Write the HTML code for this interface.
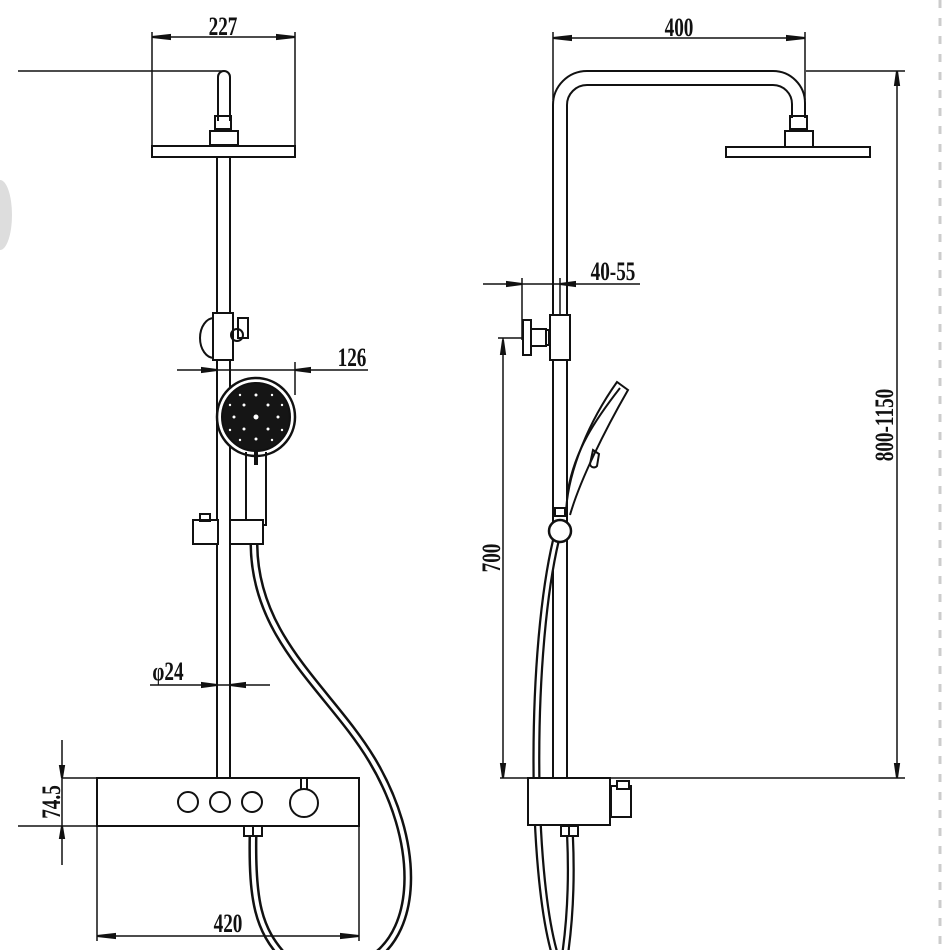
<!DOCTYPE html>
<html><head><style>
html,body{margin:0;padding:0;background:#fff;}
svg{display:block;}
text{font-family:"Liberation Serif",serif;font-weight:bold;fill:#111;}
</style></head><body>
<svg width="945" height="950" viewBox="0 0 945 950" xmlns="http://www.w3.org/2000/svg">
<ellipse cx="0" cy="215" rx="12" ry="35" fill="#ddd"/>
<line x1="940" y1="0" x2="940" y2="950" stroke="#ccc" stroke-width="3" stroke-dasharray="8,10"/>

<g fill="none" stroke="#111" stroke-width="2">
<line x1="152" y1="32" x2="152" y2="146" stroke-width="1.5"/>
<line x1="295" y1="32" x2="295" y2="146" stroke-width="1.5"/>
<line x1="152" y1="37" x2="295" y2="37" stroke-width="1.5"/>
<path d="M152,37 l18,-2 v4z M295,37 l-18,-2 v4z" fill="#111"/>
<line x1="18" y1="71" x2="224" y2="71" stroke-width="1.5"/>
<path d="M218,121 V77 a6,6 0 0 1 12,0 V121"/>
<rect x="215" y="116" width="16" height="13"/>
<rect x="210" y="131" width="28" height="14"/>
<rect x="152" y="146" width="143" height="11"/>
<line x1="217" y1="157" x2="217" y2="778"/>
<line x1="230" y1="157" x2="230" y2="778"/>
<path d="M214,318 a14,20 0 0 0 0,40"/>
<rect x="213" y="313" width="20" height="47" fill="#fff"/>
<circle cx="237" cy="335" r="6"/>
<rect x="238" y="318" width="10" height="20"/>
<line x1="177" y1="370" x2="368" y2="370" stroke-width="1.5"/>
<line x1="295" y1="362" x2="295" y2="395" stroke-width="1.5"/>
<path d="M217,370 l-15,-2 v4z M295,370 l15,-2 v4z" fill="#111"/>
<circle cx="256" cy="417" r="39" fill="#fff" stroke-width="2.5"/>
<circle cx="256" cy="417" r="34" fill="#151515"/>
<g fill="#fff" stroke="none">
<circle cx="256" cy="417" r="2.5"/><circle cx="244" cy="405" r="1.5"/><circle cx="268" cy="405" r="1.5"/>
<circle cx="244" cy="429" r="1.5"/><circle cx="268" cy="429" r="1.5"/><circle cx="256" cy="395" r="1.5"/>
<circle cx="256" cy="439" r="1.5"/><circle cx="234" cy="417" r="1.5"/><circle cx="278" cy="417" r="1.5"/>
<circle cx="240" cy="395" r="1.2"/><circle cx="272" cy="395" r="1.2"/><circle cx="240" cy="440" r="1.2"/><circle cx="272" cy="440" r="1.2"/>
<circle cx="230" cy="405" r="1.2"/><circle cx="282" cy="405" r="1.2"/><circle cx="230" cy="430" r="1.2"/><circle cx="282" cy="430" r="1.2"/>
</g>
<path d="M246,452 V525 H266 V452"/>
<line x1="256" y1="450" x2="256" y2="465" stroke-width="4"/>
<rect x="193" y="520" width="25" height="24" fill="#fff"/>
<rect x="200" y="514" width="10" height="7"/>
<rect x="230" y="520" width="33" height="24" fill="#fff"/>
<line x1="150" y1="685" x2="270" y2="685" stroke-width="1.5"/>
<path d="M217,685 l-15,-2 v4z M230,685 l15,-2 v4z" fill="#111"/>
<g stroke-width="9"><path d="M254,545 C255,640 330,690 372,760 C420,840 420,930 370,960"/><path d="M253,836 C252,900 258,930 285,958"/></g>
<g stroke="#fff" stroke-width="4"><path d="M254,545 C255,640 330,690 372,760 C420,840 420,930 370,960"/><path d="M253,836 C252,900 258,930 285,958"/></g>
<rect x="244" y="826" width="18" height="10" fill="#fff"/>
<line x1="253" y1="826" x2="253" y2="836"/>
<rect x="97" y="778" width="262" height="48" fill="#fff"/>
<circle cx="188" cy="802" r="10"/><circle cx="220" cy="802" r="10"/><circle cx="252" cy="802" r="10"/>
<circle cx="304" cy="803" r="14"/>
<path d="M301,789 V779 M307,789 V779"/>
<line x1="62" y1="740" x2="62" y2="865" stroke-width="1.5"/>
<line x1="62" y1="778" x2="97" y2="778" stroke-width="1.5"/>
<line x1="18" y1="826" x2="97" y2="826" stroke-width="1.5"/>
<path d="M62,778 l-2,-12 h4z M62,826 l-2,12 h4z" fill="#111"/>
<line x1="97" y1="826" x2="97" y2="941" stroke-width="1.5"/>
<line x1="359" y1="826" x2="359" y2="941" stroke-width="1.5"/>
<line x1="97" y1="936" x2="359" y2="936" stroke-width="1.5"/>
<path d="M97,936 l18,-2 v4z M359,936 l-18,-2 v4z" fill="#111"/>

<line x1="553" y1="32" x2="553" y2="100" stroke-width="1.5"/>
<line x1="805" y1="32" x2="805" y2="100" stroke-width="1.5"/>
<line x1="553" y1="38" x2="805" y2="38" stroke-width="1.5"/>
<path d="M553,38 l18,-2 v4z M805,38 l-18,-2 v4z" fill="#111"/>
<path d="M553,778 V105 a34,34 0 0 1 34,-34 H773 a32,32 0 0 1 32,32 V118"/>
<path d="M567,778 V105 a20,20 0 0 1 20,-20 H773 a19,19 0 0 1 19,19 V118"/>
<rect x="790" y="116" width="17" height="13"/>
<rect x="785" y="131" width="28" height="16"/>
<rect x="726" y="147" width="144" height="10"/>
<line x1="806" y1="71" x2="905" y2="71" stroke-width="1.5"/>
<line x1="897" y1="71" x2="897" y2="778" stroke-width="1.5"/>
<path d="M897,71 l-2,14 h4z M897,778 l-2,-14 h4z" fill="#111"/>
<line x1="500" y1="778" x2="905" y2="778" stroke-width="1.5"/>
<line x1="483" y1="284" x2="640" y2="284" stroke-width="1.5"/>
<line x1="522" y1="278" x2="522" y2="340" stroke-width="1.5"/>
<line x1="560" y1="278" x2="560" y2="320" stroke-width="1.5"/>
<path d="M522,284 l-15,-2 v4z M560,284 l15,-2 v4z" fill="#111"/>
<rect x="550" y="315" width="20" height="45" fill="#fff"/>
<rect x="523" y="320" width="8" height="35" fill="#fff"/>
<rect x="531" y="329" width="15" height="17"/>
<path d="M546,330 h3 v15 h-3"/>
<line x1="498" y1="338" x2="522" y2="338" stroke-width="1.5"/>
<line x1="503" y1="338" x2="503" y2="778" stroke-width="1.5"/>
<path d="M503,340 l-2,14 h4z M503,778 l-2,-14 h4z" fill="#111"/>
<path d="M566,512 C568,470 590,420 617,382 L628,390 C605,430 580,480 570,515"/>
<path d="M568,490 C575,450 595,420 620,388"/>
<path d="M593,450 l6,4 l-2,12 a4,4 0 0 1 -7,-2z"/>
<rect x="555" y="508" width="10" height="8"/>
<g stroke-width="8"><path d="M556,540 C530,650 530,870 555,955"/><path d="M570,836 C572,880 570,920 565,955"/></g>
<g stroke="#fff" stroke-width="3.5"><path d="M556,540 C530,650 530,870 555,955"/><path d="M570,836 C572,880 570,920 565,955"/></g>
<circle cx="560" cy="531" r="11" fill="#fff" stroke-width="2.5"/>
<rect x="528" y="778" width="82" height="47" fill="#fff"/>
<rect x="611" y="786" width="20" height="31" fill="#fff"/>
<rect x="617" y="781" width="12" height="8" fill="#fff"/>
<rect x="561" y="826" width="17" height="10" fill="#fff"/>
<line x1="569" y1="826" x2="569" y2="836"/>
</g>

<g font-size="24" text-anchor="middle">
<text transform="translate(223,35) scale(0.8,1.1)">227</text>
<text transform="translate(679,36) scale(0.8,1.1)">400</text>
<text transform="translate(352,366) scale(0.8,1.1)">126</text>
<text transform="translate(613,280) scale(0.8,1.1)">40-55</text>
<text transform="translate(168,680) scale(0.8,1.1)">φ24</text>
<text transform="translate(228,932) scale(0.8,1.1)">420</text>
<text transform="translate(60,802) rotate(-90) scale(0.8,1.1)">74.5</text>
<text transform="translate(500,558) rotate(-90) scale(0.8,1.1)">700</text>
<text transform="translate(893,425) rotate(-90) scale(0.8,1.1)">800-1150</text>
</g>
</svg>
</body></html>
